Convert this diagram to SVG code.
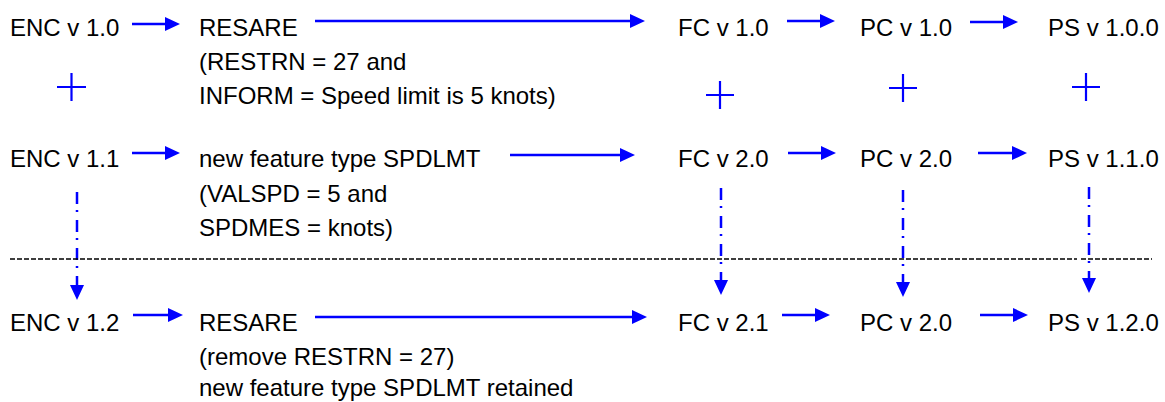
<svg xmlns="http://www.w3.org/2000/svg" width="1165" height="402" viewBox="0 0 1165 402">
<style>
text{font-family:"Liberation Sans",Arial,sans-serif;font-size:24px;fill:#000}
.arr{stroke:#0000FF;stroke-width:2.5;fill:none;marker-end:url(#ah)}
.varr{stroke:#0000FF;stroke-width:2.5;fill:none;stroke-dasharray:12 6 2 8;marker-end:url(#ah)}
.plus{stroke:#0000FF;stroke-width:2.2;fill:none}
.sep{stroke:#000;stroke-width:1.5;stroke-dasharray:5 2;fill:none}
</style>
<defs>
<marker id="ah" markerUnits="userSpaceOnUse" viewBox="0 -7 15 14" refX="0" refY="0" markerWidth="15" markerHeight="14" orient="auto">
<path d="M0,-7 L15,0 L0,7 z" fill="#0000FF"/>
</marker>
</defs>
<rect width="1165" height="402" fill="#fff"/>
<g id="connectors">
<line class="arr" x1="132" y1="24" x2="165" y2="24"/>
<line class="arr" x1="315" y1="21" x2="630" y2="21"/>
<line class="arr" x1="787" y1="21" x2="820" y2="21"/>
<line class="arr" x1="970" y1="22" x2="1003" y2="22"/>
<line class="arr" x1="132" y1="153" x2="165" y2="153"/>
<line class="arr" x1="510" y1="155" x2="620" y2="155"/>
<line class="arr" x1="788" y1="153" x2="821" y2="153"/>
<line class="arr" x1="978" y1="153" x2="1012" y2="153"/>
<line class="arr" x1="133" y1="315" x2="168" y2="315"/>
<line class="arr" x1="315" y1="317" x2="632" y2="317"/>
<line class="arr" x1="782" y1="315" x2="815" y2="315"/>
<line class="arr" x1="980" y1="315" x2="1013" y2="315"/>
<line class="varr" x1="77" y1="192" x2="77" y2="285"/>
<line class="varr" x1="721" y1="188" x2="721" y2="280"/>
<line class="varr" x1="903" y1="190" x2="903" y2="282"/>
<line class="varr" x1="1089" y1="187" x2="1089" y2="278"/>
</g>
<g id="operators">
<path class="plus" d="M57,87 H86 M71.5,73 V101"/>
<path class="plus" d="M706,95 H734 M720,81 V109"/>
<path class="plus" d="M889,88 H917 M903,74 V102"/>
<path class="plus" d="M1072,87 H1100 M1086,73 V101"/>
</g>
<g id="separator">
<line class="sep" x1="10" y1="259" x2="1077" y2="259"/>
<line class="sep" x1="1081" y1="259" x2="1152" y2="259"/>
</g>
<g id="enc10"><text x="10" y="36">ENC v 1.0</text></g>
<g id="resare1"><text x="199" y="36">RESARE</text><text x="199" y="70">(RESTRN = 27 and</text><text x="199" y="104">INFORM = Speed limit is 5 knots)</text></g>
<g id="fc10"><text x="678" y="36">FC v 1.0</text></g>
<g id="pc10"><text x="860" y="36">PC v 1.0</text></g>
<g id="ps100"><text x="1048" y="36">PS v 1.0.0</text></g>
<g id="enc11"><text x="10" y="167">ENC v 1.1</text></g>
<g id="spdlmt"><text x="199" y="167">new feature type SPDLMT</text><text x="199" y="202">(VALSPD = 5 and</text><text x="199" y="236">SPDMES = knots)</text></g>
<g id="fc20"><text x="678" y="167">FC v 2.0</text></g>
<g id="pc20a"><text x="860" y="167">PC v 2.0</text></g>
<g id="ps110"><text x="1048" y="167">PS v 1.1.0</text></g>
<g id="enc12"><text x="10" y="331">ENC v 1.2</text></g>
<g id="resare2"><text x="199" y="331">RESARE</text><text x="199" y="365">(remove RESTRN = 27)</text><text x="199" y="396">new feature type SPDLMT retained</text></g>
<g id="fc21"><text x="678" y="331">FC v 2.1</text></g>
<g id="pc20b"><text x="860" y="331">PC v 2.0</text></g>
<g id="ps120"><text x="1048" y="331">PS v 1.2.0</text></g>
</svg>
